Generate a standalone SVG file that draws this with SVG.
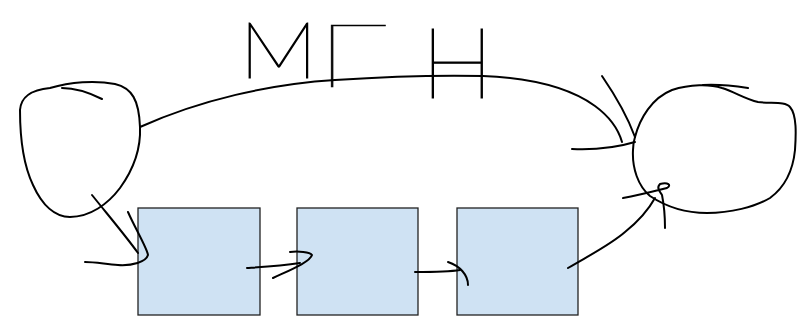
<svg xmlns="http://www.w3.org/2000/svg" width="804" height="321" viewBox="0 0 804 321">
<style>
.ink{fill:none;stroke:#000;stroke-width:2;stroke-linecap:round;stroke-linejoin:round}
.box{fill:#cfe2f3;stroke:#222;stroke-width:1.3}
.lbl{font-family:Lato,"DejaVu Sans",sans-serif;font-weight:100;fill:#000;stroke:#000;stroke-width:1.2}
</style>
<rect width="804" height="321" fill="#fff"/>
<g id="node-left">
<path class="ink" d="M50,88 C70,82 95,80 115,84 C132,88 139,100 140,127 C141,150 133,170 120,188 C108,204 90,217 70,217 C55,217 42,205 33,185 C22,162 20,135 20,110 C21,97 30,90 50,88 Z"/>
<path class="ink" d="M62,88 C78,88 90,93 102,99"/>
</g>
<g id="node-right">
<path class="ink" d="M635,137 C640,118 652,98 672,90 C690,84 710,84 722,88 C735,92 745,99 758,102 C770,104 785,101 790,107 C797,115 796,135 795,150 C793,170 785,187 770,198 C755,207 730,213 707,213 C688,213 668,208 650,196 C638,186 632,168 633,150 C633,145 634,140 635,137 Z"/>
<path class="ink" d="M703,85 C720,84 735,86 748,88"/>
</g>
<g id="box-1"><rect class="box" x="138" y="208" width="122" height="107"/></g>
<g id="box-2"><rect class="box" x="297" y="208" width="121" height="107"/></g>
<g id="box-3"><rect class="box" x="457" y="208" width="121" height="107"/></g>
<g id="connectors">
<path class="ink" d="M140,127 C200,100 270,84 335,80 C380,77 440,75 483,76 C530,78 570,88 595,106 C610,117 618,128 622,142"/>
<path class="ink" d="M602,76 C615,95 628,118 635,137"/>
<path class="ink" d="M572,149 C595,150 615,148 635,142"/>
<path class="ink" d="M92,195 C108,215 125,235 138,253"/>
<path class="ink" d="M128,212 C135,228 147,248 148,255 C146,262 132,266 118,265 C105,264 95,262 85,262"/>
<path class="ink" d="M247,268 C262,267 280,266 300,263"/>
<path class="ink" d="M290,252 C298,251 310,252 312,255 C310,262 290,270 273,278"/>
<path class="ink" d="M415,272 C430,272 448,272 460,270"/>
<path class="ink" d="M448,262 C460,266 468,275 468,285"/>
<path class="ink" d="M568,268 C590,255 610,245 625,232 C640,220 650,207 655,198"/>
<path class="ink" d="M623,198 C640,195 655,191 667,188 C672,185 668,182 660,184 C656,188 660,192 662,195 C664,205 665,215 665,228"/>
</g>
<g id="label">
<text class="lbl" font-size="79" transform="translate(239,78) scale(1.12,1)">M</text>
<text class="lbl" font-size="88" transform="translate(316,87) scale(1.5,1)" style="stroke-width:0.6">Γ</text>
<text class="lbl" font-size="99" transform="translate(421,98) scale(0.98,1)">H</text>
</g>
</svg>
